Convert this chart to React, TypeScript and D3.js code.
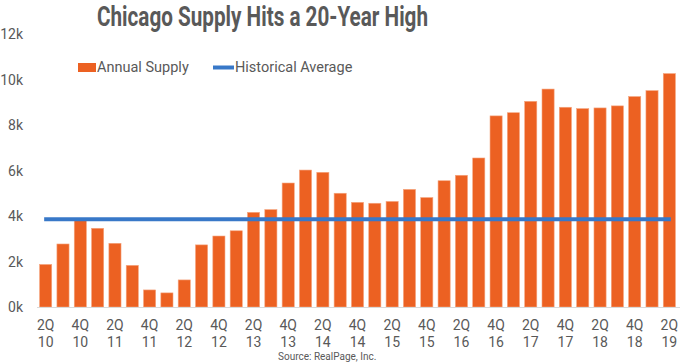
import React from "react";
import * as d3 from "d3";

const quarters = [
  "2Q10", "3Q10", "4Q10", "1Q11", "2Q11", "3Q11", "4Q11", "1Q12", "2Q12", "3Q12",
  "4Q12", "1Q13", "2Q13", "3Q13", "4Q13", "1Q14", "2Q14", "3Q14", "4Q14", "1Q15",
  "2Q15", "3Q15", "4Q15", "1Q16", "2Q16", "3Q16", "4Q16", "1Q17", "2Q17", "3Q17",
  "4Q17", "1Q18", "2Q18", "3Q18", "4Q18", "1Q19", "2Q19",
];

const annualSupply = [
  1870, 2770, 3820, 3460, 2800, 1830, 750, 620, 1190, 2730,
  3120, 3350, 4160, 4280, 5450, 6020, 5920, 5000, 4600, 4560,
  4640, 5170, 4810, 5550, 5790, 6550, 8400, 8540, 9040, 9580,
  8780, 8720, 8750, 8840, 9250, 9510, 10260,
];

const historicalAverage = 3860;

const yTicks = [0, 2000, 4000, 6000, 8000, 10000, 12000];

const WIDTH = 680;
const HEIGHT = 363;
const FONT = "Roboto, 'Noto Sans', sans-serif";
const GREY = "#595959";
const ORANGE = "#EC6122";
const BLUE = "#3878C8";

export default function App() {
  const x = d3
    .scaleBand<string>()
    .domain(quarters)
    .range([37, 678])
    .paddingInner(0.3)
    .paddingOuter(0.15);

  const y = d3.scaleLinear().domain([0, 12000]).range([307, 34]);

  const first = x(quarters[0])! + x.bandwidth() / 2;
  const last = x(quarters[quarters.length - 1])! + x.bandwidth() / 2;

  return (
    <svg
      width={WIDTH}
      height={HEIGHT}
      style={{ position: "absolute", left: 0, top: 0, background: "#fff" }}
      fontFamily={FONT}
    >
      {/* title */}
      <text
        x={97}
        y={26}
        fontSize={27}
        fontWeight={700}
        fill={GREY}
        textLength={331}
        lengthAdjust="spacingAndGlyphs"
      >
        Chicago Supply Hits a 20-Year High
      </text>

      {/* y tick labels */}
      {yTicks.map((t) => (
        <text
          key={t}
          x={23}
          y={y(t) + 5}
          textAnchor="end"
          fontSize={14}
          fill={GREY}
        >
          {`${t / 1000}k`}
        </text>
      ))}

      {/* bars */}
      {quarters.map((q, i) => (
        <rect
          key={q}
          x={x(q)}
          y={y(annualSupply[i])}
          width={x.bandwidth()}
          height={y(0) - y(annualSupply[i])}
          fill={ORANGE}
          stroke="#F5A57F"
          strokeWidth={0.6}
        />
      ))}

      {/* baseline */}
      <line x1={37} x2={680} y1={y(0) + 0.5} y2={y(0) + 0.5} stroke="#D9D9D9" strokeWidth={1} />

      {/* historical average */}
      <line
        x1={first - 1.5}
        x2={last + 1.5}
        y1={y(historicalAverage)}
        y2={y(historicalAverage)}
        stroke={BLUE}
        strokeWidth={4}
      />

      {/* x labels */}
      {quarters.map((q, i) =>
        i % 2 === 0 ? (
          <text
            key={q}
            x={x(q)! + x.bandwidth() / 2}
            textAnchor="middle"
            fontSize={14}
            fill={GREY}
          >
            <tspan x={x(q)! + x.bandwidth() / 2} y={330}>
              {q.slice(0, 2)}
            </tspan>
            <tspan x={x(q)! + x.bandwidth() / 2} y={347}>
              {q.slice(2)}
            </tspan>
          </text>
        ) : null
      )}

      {/* legend */}
      <rect x={78} y={63} width={18} height={9} fill={ORANGE} />
      <text x={97} y={72} fontSize={14.5} fill={GREY}>
        Annual Supply
      </text>
      <line x1={213} x2={234} y1={67.5} y2={67.5} stroke={BLUE} strokeWidth={4} />
      <text x={235} y={72} fontSize={14.5} fill={GREY}>
        Historical Average
      </text>

      {/* source */}
      <text x={278} y={360} fontSize={10} fill={GREY}>
        Source: RealPage, Inc.
      </text>
    </svg>
  );
}
